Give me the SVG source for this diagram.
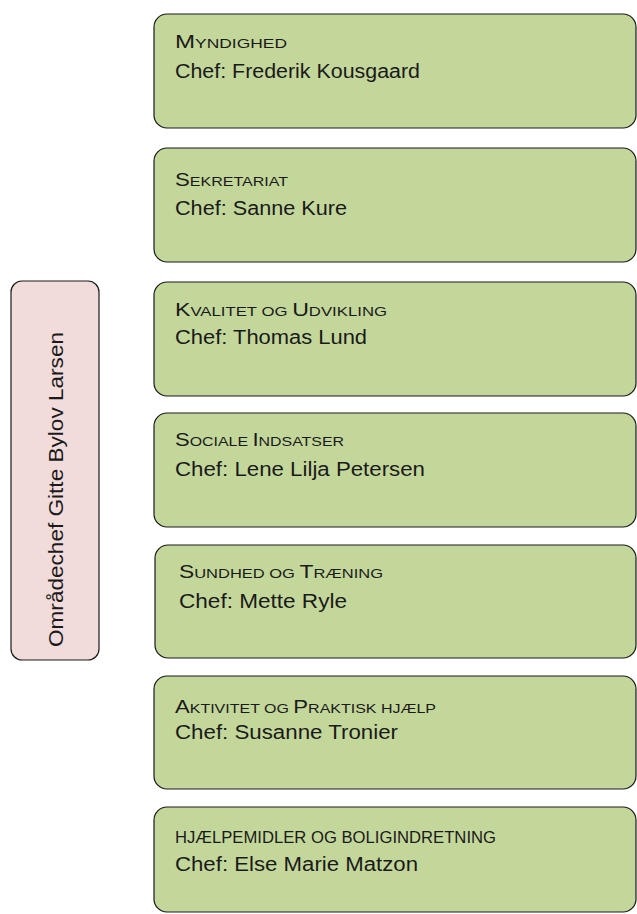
<svg xmlns="http://www.w3.org/2000/svg" width="637" height="914" viewBox="0 0 637 914">
<style>
.box{fill:#C4D79B;stroke:#1a1a1a;stroke-width:1.2}
.lead{fill:#F2DCDB;stroke:#1a1a1a;stroke-width:1.2}
text{font-family:"Liberation Sans",Arial,sans-serif;fill:#1a1a1a}
.t{font-size:18px}
.s{font-size:13px}
.c{font-size:20px}
</style>
<rect width="637" height="914" fill="#ffffff"/>
<g id="connectors"/>
<g id="leader">
<rect class="lead" x="11" y="281" width="88" height="379" rx="11"/>
<text class="c" transform="translate(63,489.5) rotate(-90)" text-anchor="middle" textLength="315" lengthAdjust="spacingAndGlyphs">Områdechef Gitte Bylov Larsen</text>
</g>
<g id="myndighed">
<rect class="box" x="154" y="14" width="482" height="114" rx="13"/>
<text class="t" x="175" y="48" textLength="112" lengthAdjust="spacingAndGlyphs">M<tspan class="s">YNDIGHED</tspan></text>
<text class="c" x="175" y="78" textLength="245" lengthAdjust="spacingAndGlyphs">Chef: Frederik Kousgaard</text>
</g>
<g id="sekretariat">
<rect class="box" x="154" y="148" width="482" height="114" rx="13"/>
<text class="t" x="175" y="186" textLength="113" lengthAdjust="spacingAndGlyphs">S<tspan class="s">EKRETARIAT</tspan></text>
<text class="c" x="175" y="215" textLength="172" lengthAdjust="spacingAndGlyphs">Chef: Sanne Kure</text>
</g>
<g id="kvalitet">
<rect class="box" x="154" y="282" width="482" height="114" rx="13"/>
<text class="t" x="175" y="316" textLength="212" lengthAdjust="spacingAndGlyphs">K<tspan class="s">VALITET OG </tspan>U<tspan class="s">DVIKLING</tspan></text>
<text class="c" x="175" y="344" textLength="192" lengthAdjust="spacingAndGlyphs">Chef: Thomas Lund</text>
</g>
<g id="sociale">
<rect class="box" x="154" y="413" width="482" height="114" rx="13"/>
<text class="t" x="175" y="446" textLength="169" lengthAdjust="spacingAndGlyphs">S<tspan class="s">OCIALE </tspan>I<tspan class="s">NDSATSER</tspan></text>
<text class="c" x="175" y="476" textLength="250" lengthAdjust="spacingAndGlyphs">Chef: Lene Lilja Petersen</text>
</g>
<g id="sundhed">
<rect class="box" x="155" y="545" width="481" height="113" rx="13"/>
<text class="t" x="179" y="578" textLength="204" lengthAdjust="spacingAndGlyphs">S<tspan class="s">UNDHED OG </tspan>T<tspan class="s">RÆNING</tspan></text>
<text class="c" x="179" y="608" textLength="168" lengthAdjust="spacingAndGlyphs">Chef: Mette Ryle</text>
</g>
<g id="aktivitet">
<rect class="box" x="154" y="676" width="482" height="113" rx="13"/>
<text class="t" x="175" y="713" textLength="261" lengthAdjust="spacingAndGlyphs">A<tspan class="s">KTIVITET OG </tspan>P<tspan class="s">RAKTISK HJÆLP</tspan></text>
<text class="c" x="175" y="739" textLength="223" lengthAdjust="spacingAndGlyphs">Chef: Susanne Tronier</text>
</g>
<g id="hjaelpemidler">
<rect class="box" x="154" y="807" width="482" height="105" rx="13"/>
<text class="s" x="175" y="843" style="font-size:16px" textLength="321" lengthAdjust="spacingAndGlyphs">HJÆLPEMIDLER OG BOLIGINDRETNING</text>
<text class="c" x="175" y="871" textLength="243" lengthAdjust="spacingAndGlyphs">Chef: Else Marie Matzon</text>
</g>
</svg>
